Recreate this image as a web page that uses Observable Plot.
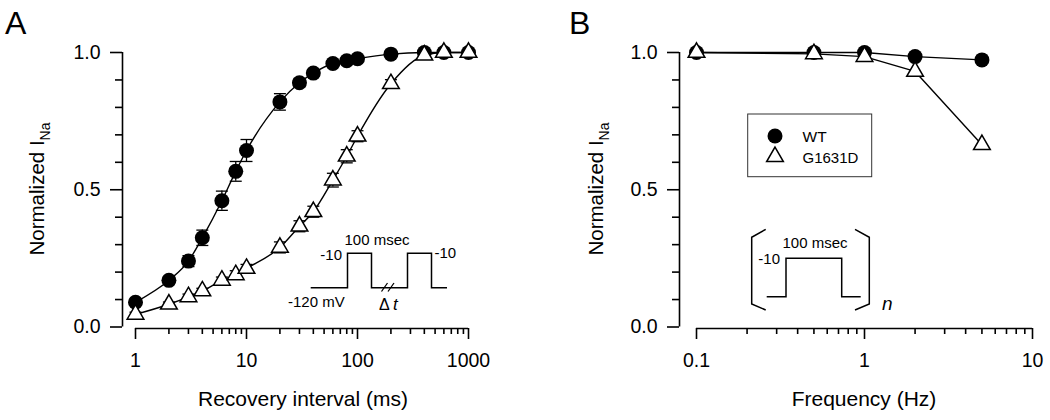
<!DOCTYPE html>
<html><head><meta charset="utf-8">
<script src="https://cdn.jsdelivr.net/npm/d3@7"></script>
<script src="https://cdn.jsdelivr.net/npm/@observablehq/plot@0.6"></script>
<style>
body{margin:0;background:#fff;}
#wrap{position:relative;width:1050px;height:420px;font-family:Arial,"Liberation Sans",sans-serif;}
#wrap svg{position:absolute;top:0;overflow:visible;}
</style></head><body><div id="wrap"></div>
<script>
// ---- Panel A data: recovery from inactivation ----
const recoveryInterval = [1, 2, 3, 4, 6, 8, 10, 20, 30, 40, 60, 80, 100, 200, 400, 600, 1000];
const wtRecovery =       [0.09, 0.17, 0.24, 0.325, 0.46, 0.567, 0.643, 0.82, 0.89, 0.925, 0.96, 0.97, 0.977, 0.994, 1.0, 1.0, 1.0];
const wtRecoverySem =    [0.01, 0.012, 0.02, 0.028, 0.035, 0.036, 0.04, 0.03, 0.015, 0.012, 0.01, 0.01, 0.008, 0.005, 0.004, 0.004, 0.003];
const mutRecovery =      [0.046, 0.083, 0.11, 0.131, 0.17, 0.19, 0.213, 0.29, 0.367, 0.42, 0.535, 0.622, 0.695, 0.886, 0.99, 1.0, 1.0];
const mutRecoverySem =   [0.008, 0.008, 0.01, 0.01, 0.012, 0.015, 0.015, 0.02, 0.02, 0.02, 0.025, 0.024, 0.02, 0.015, 0.005, 0.004, 0.003];
const recoveryMajorTicks = [1, 10, 100, 1000];
const recoveryMinorTicks = [2,3,4,5,6,7,8,9,20,30,40,50,60,70,80,90,200,300,400,500,600,700,800,900];

// ---- Panel B data: frequency dependence ----
const frequency = [0.1, 0.5, 1, 2, 5];
const wtFreq =    [1.0, 1.0, 1.0, 0.985, 0.973];
const mutFreq =   [1.0, 0.995, 0.985, 0.931, 0.664];
const freqMajorTicks = [0.1, 1, 10];
const freqMinorTicks = [0.2,0.3,0.4,0.5,0.6,0.7,0.8,0.9,2,3,4,5,6,7,8,9];

const yMajorTicks = [0, 0.5, 1];
const yMinorTicks = [0.1,0.2,0.3,0.4,0.6,0.7,0.8,0.9];
const seriesNames = ["WT", "G1631D"];

const capSymbol = {draw(ctx, size) { const r = Math.sqrt(size / Math.PI); ctx.moveTo(-r, 0); ctx.lineTo(r, 0); }};

function table(xs, ys, es) { return xs.map((x, i) => ({x, y: ys[i], e: es ? es[i] : 0})); }

function panel(o) {
  const wt = table(o.xs, o.wt, o.wtE);
  const mut = table(o.xs, o.mut, o.mutE);
  const errMarks = (data) => {
    const d = data.filter(v => v.e > 0);
    return [
      Plot.ruleX(d, {x: "x", y1: v => v.y - v.e, y2: v => v.y + v.e, stroke: "black", strokeWidth: 1.3}),
      Plot.dot(d, {x: "x", y: v => v.y + v.e, symbol: capSymbol, r: 6, stroke: "black", strokeWidth: 1.3}),
      Plot.dot(d, {x: "x", y: v => v.y - v.e, symbol: capSymbol, r: 6, stroke: "black", strokeWidth: 1.3})
    ];
  };
  return Plot.plot({
    width: 525, height: 420,
    marginLeft: o.marginLeft, marginRight: o.marginRight, marginTop: 52, marginBottom: 92,
    style: {fontFamily: 'Arial, "Liberation Sans", sans-serif', fontSize: "19px", color: "black", background: "transparent"},
    x: {type: "log", domain: o.xDomain, insetLeft: o.inset},
    y: {domain: [0, 1], insetBottom: 1.5},
    marks: [
      Plot.ruleX([o.xDomain[0]], {y1: 0, y2: 1, dx: -o.inset, stroke: "black", strokeWidth: 1.6}),
      Plot.ruleY([0], {x1: o.xDomain[0], x2: o.xDomain[1], dy: 1.5, stroke: "black", strokeWidth: 1.6}),
      Plot.axisY({ticks: yMajorTicks, tickSize: 12, tickPadding: 10, tickFormat: d3.format(".1f"), label: null, strokeWidth: 1.6, fontSize: 19.5}),
      Plot.axisY({ticks: yMinorTicks, tickSize: 7, tickFormat: () => "", label: null, strokeWidth: 1.6}),
      Plot.axisX({ticks: o.major, tickSize: 11, tickPadding: 14, tickFormat: o.fmt, label: null, strokeWidth: 1.6, fontSize: 19.5}),
      Plot.axisX({ticks: o.minor, tickSize: 6, tickFormat: () => "", label: null, strokeWidth: 1.6}),
      Plot.line(wt, {x: "x", y: "y", curve: o.curve, stroke: "black", strokeWidth: 1.4}),
      Plot.line(mut, {x: "x", y: "y", curve: o.curve, stroke: "black", strokeWidth: 1.4}),
      ...errMarks(wt), ...errMarks(mut),
      Plot.dot(wt, {x: "x", y: "y", r: 7.5, fill: "black", stroke: "none"}),
      Plot.dot(mut, {x: "x", y: "y", r: 6.2, symbol: "triangle", fill: "white", stroke: "black", strokeWidth: 1.5})
    ]
  });
}

const wrap = document.getElementById("wrap");
const A = panel({xs: recoveryInterval, wt: wtRecovery, wtE: wtRecoverySem, mut: mutRecovery, mutE: mutRecoverySem, curve: "monotone-x",
  xDomain: [1, 1000], inset: 13, marginLeft: 122, marginRight: 57, major: recoveryMajorTicks, minor: recoveryMinorTicks, fmt: d => String(d)});
const B = panel({xs: frequency, wt: wtFreq, mut: mutFreq, curve: "linear",
  xDomain: [0.1, 10], inset: 17, marginLeft: 154, marginRight: 18, major: freqMajorTicks, minor: freqMinorTicks, fmt: d => String(d)});
A.style.left = "0px"; B.style.left = "525px";
wrap.appendChild(A); wrap.appendChild(B);

const txt = (s, x, y, size, str, anchor = "start", style = "normal") =>
  s.append("text").attr("x", x).attr("y", y).attr("font-size", size).attr("text-anchor", anchor)
   .attr("font-style", style).attr("fill", "black").text(str);

function decorate(svgNode, letter, letterX, yLabelX, xLabel, xLabelX) {
  const s = d3.select(svgNode);
  txt(s, letterX, 33.5, 32, letter, "start");
  const t = s.append("text").attr("transform", `translate(${yLabelX},189) rotate(-90)`)
    .attr("text-anchor", "middle").attr("font-size", 20.5).attr("fill", "black");
  t.append("tspan").text("Normalized I");
  t.append("tspan").attr("dy", 6).attr("font-size", 14).text("Na");
  txt(s, xLabelX, 406, 21, xLabel, "middle");
  return s;
}
const sA = decorate(A, "A", 5, 43.5, "Recovery interval (ms)", 303);
const sB = decorate(B, "B", 44, 78, "Frequency (Hz)", 339);

// Panel A inset: paired-pulse protocol
const gA = sA.append("g").attr("fill", "none").attr("stroke", "black").attr("stroke-width", 1.5);
gA.append("path").attr("d", "M310.7,287.7H347.5V253.3H371.5V287.7H407.5V253.3H431.5V287.7H447");
gA.append("path").attr("d", "M381.5,291.5L387.5,283M388,291.5L394,283").attr("stroke-width", 1.3);
txt(sA, 377, 245, 15, "100 msec", "middle");
txt(sA, 342, 260, 15, "-10", "end");
txt(sA, 434.5, 258, 15, "-10");
txt(sA, 288, 306.5, 15, "-120 mV");
txt(sA, 379, 310, 16, "\u0394");
txt(sA, 393, 310, 17, "t", "start", "italic");

// Panel B legend
sB.append("rect").attr("x", 222.7).attr("y", 114).attr("width", 124).attr("height", 62.7)
  .attr("fill", "white").attr("stroke", "#333").attr("stroke-width", 1);
sB.append("circle").attr("cx", 250).attr("cy", 136).attr("r", 7.5).attr("fill", "black");
sB.append("path").attr("transform", "translate(250,156.7)").attr("d", d3.symbol(d3.symbolTriangle, 121)())
  .attr("fill", "white").attr("stroke", "black").attr("stroke-width", 1.5);
txt(sB, 277.5, 141.7, 15.5, seriesNames[0]);
txt(sB, 277.5, 163.3, 15, seriesNames[1]);

// Panel B inset: pulse train
const gB = sB.append("g").attr("fill", "none").attr("stroke", "black").attr("stroke-width", 1.5);
gB.append("path").attr("d", "M240.7,229.3L226.7,237.3V304L240.7,310");
gB.append("path").attr("d", "M330,229.3L344.3,237.3V304L330,310");
gB.append("path").attr("d", "M241.7,296.7H261V258.3H316.7V296.7H335.7");
txt(sB, 290, 248, 15, "100 msec", "middle");
txt(sB, 255, 264, 15, "-10", "end");
txt(sB, 357, 310, 19, "n", "start", "italic");
</script></body></html>
